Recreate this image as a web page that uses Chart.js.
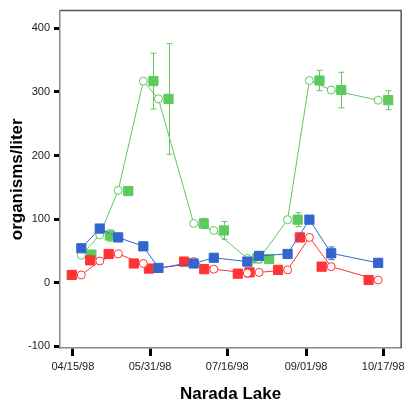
<!DOCTYPE html>
<html>
<head>
<meta charset="utf-8">
<script src="https://cdn.jsdelivr.net/npm/chart.js@4"></script>
<style>
  body { margin: 0; background: #fff; }
</style>
</head>
<body>
<canvas id="lakeChart" width="409" height="410"></canvas>
<script>
// sampling dates and counts (organisms/liter)
const sampleDates = ['04/20/98', '05/01/98', '05/12/98', '05/27/98', '06/05/98', '06/26/98', '07/08/98',
                     '07/28/98', '08/04/98', '08/21/98', '09/03/98', '09/16/98', '10/14/98'];
const greenLine = [43, 75, 145, 317, 289, 93, 82, 38, 37, 99, 318, 303, 287];
const greenMean = [44, 74, 144, 317, 289, 93, 82, 38, 37, 99, 318, 303, 287];
const greenErr  = [0, 9, 0, 44, 87, 8, 14, 0, 0, 11, 16, 28, 15];
const blueMean  = [54, 85, 71, 57, 23, 30, 39, 33, 42, 45, 99, 46, 31];
const blueErr   = [0, 0, 0, 0, 0, 0, 0, 0, 0, 0, 0, 10, 0];
const redLine   = [12, 34, 45, 30, 22, 33, 21, 15, 16, 20, 71, 25, 4];
const redMean   = [12, 35, 45, 30, 22, 33, 21, 14, 16, 20, 71, 25, 4];
const xTickLabels = ['04/15/98', '05/31/98', '07/16/98', '09/01/98', '10/17/98'];
const yTickValues = [-100, 0, 100, 200, 300, 400];

const GREEN = '#5ec95e';
const BLUE = '#3366cc';
const RED = '#ff3333';

// days since the first tick date
const start = Date.UTC(1998, 3, 15);
function dayOf(s) {
  const [m, d, y] = s.split('/').map(Number);
  return (Date.UTC(1900 + y, m - 1, d) - start) / 86400000;
}

const days = sampleDates.map(dayOf);
const pts = (vals, shift) => vals.map((v, i) => ({ x: days[i] + shift, y: v }));

// draws the vertical error bars with small caps
const errorBars = {
  id: 'errorBars',
  afterDatasetsDraw(chart) {
    const { ctx, scales: { x, y } } = chart;
    ctx.save();
    ctx.lineWidth = 1;
    chart.data.datasets.forEach(ds => {
      if (!ds.errors) return;
      ctx.strokeStyle = ds.borderColor;
      ds.data.forEach((p, j) => {
        const e = ds.errors[j];
        if (!e) return;
        const px = Math.round(x.getPixelForValue(p.x)) + 0.5;
        const top = y.getPixelForValue(p.y + e);
        const bot = y.getPixelForValue(p.y - e);
        ctx.beginPath();
        ctx.moveTo(px, top); ctx.lineTo(px, bot);
        ctx.moveTo(px - 3, top); ctx.lineTo(px + 3, top);
        ctx.moveTo(px - 3, bot); ctx.lineTo(px + 3, bot);
        ctx.stroke();
      });
    });
    ctx.restore();
  }
};

// top and right edges of the plot frame
const frame = {
  id: 'frame',
  afterDraw(chart) {
    const { ctx, chartArea: a } = chart;
    ctx.save();
    ctx.strokeStyle = '#555';
    ctx.lineWidth = 1.5;
    ctx.beginPath();
    ctx.moveTo(a.left, a.top);
    ctx.lineTo(a.right, a.top);
    ctx.lineTo(a.right, a.bottom);
    ctx.stroke();
    ctx.restore();
  }
};

const ctx = document.getElementById('lakeChart').getContext('2d');
new Chart(ctx, {
  type: 'scatter',
  data: {
    datasets: [{
      data: pts(greenLine, 0),
      showLine: true,
      borderColor: GREEN,
      borderWidth: 1,
      pointStyle: 'circle',
      pointRadius: 4,
      pointBorderWidth: 1,
      pointBackgroundColor: '#fff',
      order: 3
    }, {
      data: pts(greenMean, 6),
      errors: greenErr,
      showLine: false,
      borderColor: GREEN,
      backgroundColor: GREEN,
      pointStyle: 'rect',
      pointRadius: 6.5,
      pointBorderWidth: 1,
      order: 3
    }, {
      data: pts(redLine, 0),
      showLine: true,
      borderColor: RED,
      borderWidth: 1,
      pointStyle: 'circle',
      pointRadius: 4,
      pointBorderWidth: 1,
      pointBackgroundColor: '#fff',
      order: 2
    }, {
      data: pts(redMean, -5.7),
      showLine: false,
      borderColor: RED,
      backgroundColor: RED,
      pointStyle: 'rect',
      pointRadius: 6.5,
      pointBorderWidth: 1,
      order: 2
    }, {
      data: pts(blueMean, 0),
      errors: blueErr,
      showLine: true,
      borderColor: BLUE,
      backgroundColor: BLUE,
      borderWidth: 1,
      pointStyle: 'rect',
      pointRadius: 6.5,
      pointBorderWidth: 1,
      order: 1
    }]
  },
  options: {
    responsive: false,
    animation: false,
    layout: { padding: { left: 0, top: 5, right: 6, bottom: 0 } },
    plugins: { legend: { display: false }, tooltip: { enabled: false } },
    scales: {
      x: {
        min: -7.7,
        max: 195.7,
        afterBuildTicks: s => { s.ticks = xTickLabels.map(l => ({ value: dayOf(l) })); },
        afterFit: s => { s.height = 62; },
        grid: { drawOnChartArea: false, tickLength: 8, tickWidth: 3, tickColor: '#000' },
        border: { color: '#8a8a8a', width: 1.5 },
        ticks: {
          autoSkip: false,
          maxRotation: 0,
          padding: 4,
          color: '#222',
          font: { family: 'Liberation Sans', size: 11 },
          callback: (v, i) => xTickLabels[i]
        },
        title: {
          display: true,
          text: 'Narada Lake',
          color: '#000',
          font: { family: 'Liberation Sans', size: 17, weight: 'bold' },
          padding: { top: 0, bottom: 5 }
        }
      },
      y: {
        min: -103,
        max: 428,
        afterBuildTicks: s => { s.ticks = yTickValues.map(v => ({ value: v })); },
        afterFit: s => { s.width = 60; },
        grid: { drawOnChartArea: false, tickLength: 6, tickWidth: 3, tickColor: '#000' },
        border: { color: '#8a8a8a', width: 1.5 },
        ticks: {
          padding: 4,
          color: '#222',
          font: { family: 'Liberation Sans', size: 11 }
        },
        title: {
          display: true,
          text: 'organisms/liter',
          color: '#000',
          font: { family: 'Liberation Sans', size: 17, weight: 'bold' },
          padding: { top: 7, bottom: 0 }
        }
      }
    }
  },
  plugins: [errorBars, frame]
});
</script>
</body>
</html>
